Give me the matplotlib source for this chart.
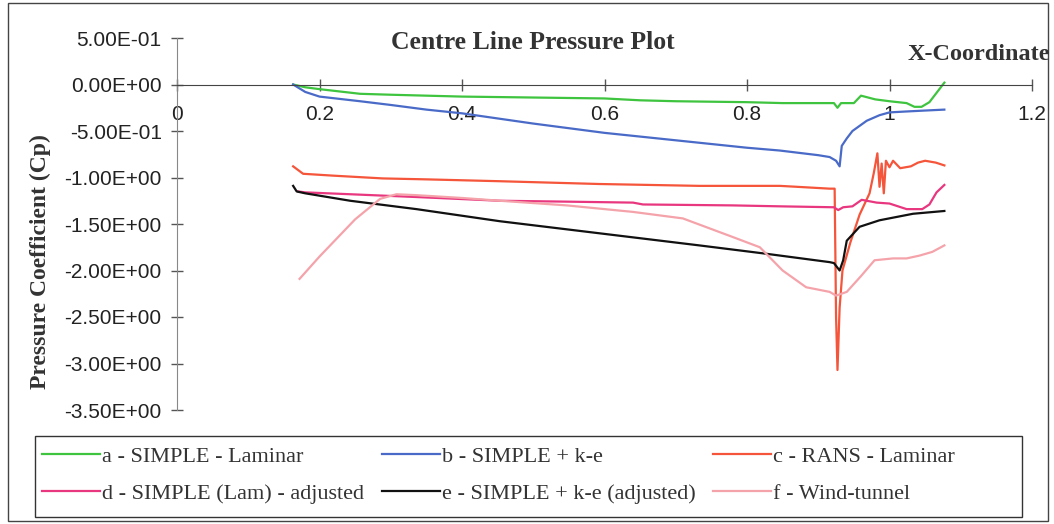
import matplotlib
matplotlib.use("Agg")
import matplotlib.pyplot as plt
from matplotlib.patches import Rectangle
from matplotlib.ticker import FixedLocator, FuncFormatter

# a - SIMPLE - Laminar
a_x = [0.163, 0.18, 0.2, 0.257, 0.3, 0.4, 0.5, 0.6, 0.65, 0.7, 0.8, 0.85, 0.9, 0.922,
       0.927, 0.932, 0.95, 0.96, 0.98, 1.0, 1.024, 1.035, 1.045, 1.056, 1.065, 1.077]
a_y = [0.0, -0.03, -0.05, -0.1, -0.11, -0.13, -0.14, -0.15, -0.17, -0.18, -0.19, -0.2, -0.2, -0.2,
       -0.25, -0.2, -0.2, -0.12, -0.16, -0.18, -0.2, -0.24, -0.24, -0.19, -0.1, 0.02]

# b - SIMPLE + k-e
b_x = [0.163, 0.18, 0.2, 0.257, 0.3, 0.35, 0.4, 0.5, 0.6, 0.7, 0.8, 0.846, 0.9, 0.916, 0.925,
       0.93, 0.933, 0.94, 0.948, 0.968, 0.986, 1.0, 1.024, 1.05, 1.077]
b_y = [0.0, -0.08, -0.13, -0.18, -0.22, -0.27, -0.31, -0.42, -0.52, -0.6, -0.68, -0.71, -0.76, -0.78, -0.82,
       -0.88, -0.66, -0.58, -0.5, -0.39, -0.33, -0.3, -0.29, -0.28, -0.27]

# c - RANS - Laminar
c_x = [0.163, 0.177, 0.219, 0.289, 0.35, 0.453, 0.593, 0.733, 0.846, 0.87, 0.916, 0.923, 0.925,
       0.927, 0.93, 0.934, 0.945, 0.958, 0.972, 0.978, 0.983, 0.986, 0.989, 0.992, 0.995, 1.0,
       1.005, 1.015, 1.03, 1.04, 1.05, 1.065, 1.077]
c_y = [-0.88, -0.96, -0.98, -1.01, -1.02, -1.04, -1.07, -1.09, -1.09, -1.1, -1.12, -1.12, -2.5,
       -3.07, -2.4, -2.0, -1.7, -1.4, -1.17, -0.95, -0.74, -1.1, -0.85, -1.17, -0.82, -0.89,
       -0.82, -0.9, -0.88, -0.84, -0.82, -0.84, -0.87]

# d - SIMPLE (Lam) - adjusted
d_x = [0.17, 0.18, 0.243, 0.336, 0.453, 0.55, 0.64, 0.654, 0.78, 0.846, 0.922, 0.928, 0.935,
       0.948, 0.961, 0.982, 1.0, 1.024, 1.046, 1.056, 1.066, 1.077]
d_y = [-1.15, -1.16, -1.18, -1.21, -1.25, -1.26, -1.27, -1.29, -1.30, -1.31, -1.32, -1.35, -1.32,
       -1.31, -1.24, -1.27, -1.28, -1.34, -1.34, -1.29, -1.16, -1.08]

# e - SIMPLE + k-e (adjusted)
e_x = [0.163, 0.168, 0.18, 0.243, 0.336, 0.453, 0.593, 0.733, 0.827, 0.916, 0.922, 0.93, 0.935,
       0.94, 0.958, 0.986, 1.033, 1.077]
e_y = [-1.09, -1.15, -1.17, -1.25, -1.34, -1.47, -1.6, -1.73, -1.82, -1.91, -1.92, -2.0, -1.89,
       -1.68, -1.53, -1.46, -1.39, -1.36]

# f - Wind-tunnel
f_x = [0.172, 0.2, 0.25, 0.285, 0.308, 0.336, 0.4, 0.453, 0.547, 0.64, 0.71, 0.78, 0.818, 0.85,
       0.883, 0.916, 0.925, 0.94, 0.96, 0.979, 1.005, 1.024, 1.042, 1.06, 1.077]
f_y = [-2.09, -1.85, -1.45, -1.23, -1.18, -1.19, -1.22, -1.25, -1.30, -1.37, -1.44, -1.64, -1.75,
       -2.0, -2.18, -2.23, -2.27, -2.23, -2.06, -1.89, -1.87, -1.87, -1.84, -1.8, -1.73]

labels = ["a - SIMPLE - Laminar", "b - SIMPLE + k-e", "c - RANS - Laminar",
          "d - SIMPLE (Lam) - adjusted", "e - SIMPLE + k-e (adjusted)", "f - Wind-tunnel"]
colors = ["#3ec43e", "#4a6ac8", "#f5553a", "#e8377f", "#111111", "#f5a3aa"]

x_ticks = [0, 0.2, 0.4, 0.6, 0.8, 1.0, 1.2]
x_tick_labels = ["0", "0.2", "0.4", "0.6", "0.8", "1", "1.2"]
y_ticks = [0.5, 0.0, -0.5, -1.0, -1.5, -2.0, -2.5, -3.0, -3.5]

fig = plt.figure(figsize=(10.54, 5.24), dpi=100)
ax = fig.add_axes([177 / 1054, 1 - 410 / 524, (1032 - 177) / 1054, (410 - 38) / 524])

series = [(a_x, a_y), (b_x, b_y), (c_x, c_y), (d_x, d_y), (e_x, e_y), (f_x, f_y)]
handles = []
for (xs, ys), lab, col in zip(series, labels, colors):
    h, = ax.plot(xs, ys, color=col, lw=1.6, label=lab)
    handles.append(h)

ax.set_xlim(0, 1.2)
ax.set_ylim(-3.5, 0.5)
ax.spines["top"].set_visible(False)
ax.spines["right"].set_visible(False)
ax.spines["bottom"].set_position(("data", 0))
ax.spines["bottom"].set_color("#444444")
ax.spines["left"].set_color("#888888")

ax.xaxis.set_major_locator(FixedLocator(x_ticks))
ax.set_xticklabels(x_tick_labels)
ax.yaxis.set_major_locator(FixedLocator(y_ticks))
ax.yaxis.set_major_formatter(FuncFormatter(lambda v, p: f"{v:.2E}"))

ax.tick_params(axis="both", direction="inout", length=8, width=1, colors="#555555",
               labelcolor="#222222", labelsize=15)
ax.tick_params(axis="x", pad=11)
ax.tick_params(axis="y", pad=7)
for t in ax.get_xticklabels() + ax.get_yticklabels():
    t.set_family("Liberation Sans")

fig.text(533 / 1054, 1 - 43 / 524, "Centre Line Pressure Plot", family="Liberation Serif",
         weight="bold", fontsize=18.5, ha="center", va="center", color="#333333")
fig.text(1050 / 1054, 1 - 55 / 524, "X-Coordinate", family="Liberation Serif",
         weight="bold", fontsize=17.5, ha="right", va="center", color="#333333")
fig.text(40 / 1054, 1 - 262 / 524, "Pressure Coefficient (Cp)", family="Liberation Serif",
         weight="bold", fontsize=17, ha="center", va="center", rotation=90, color="#333333")

# legend fills row by row in the reference, box drawn separately
order = [0, 3, 1, 4, 2, 5]
leg = fig.legend(handles=[handles[i] for i in order], labels=[labels[i] for i in order],
                 ncol=3, loc="upper left", bbox_to_anchor=(42 / 1054, 1 - 446 / 524),
                 prop={"family": "Liberation Serif", "size": 16}, handlelength=2.6,
                 handletextpad=0.1, labelspacing=0.75, columnspacing=0.8, borderpad=0,
                 borderaxespad=0, frameon=False)
for t in leg.get_texts():
    t.set_color("#333333")

fig.patches.append(Rectangle((35 / 1054, 1 - 517 / 524), (1022 - 35) / 1054, (517 - 436) / 524,
                             transform=fig.transFigure, fill=False, edgecolor="#333333", lw=1.0))
fig.patches.append(Rectangle((8 / 1054, 3 / 524), 1040 / 1054, 518 / 524, transform=fig.transFigure,
                             fill=False, edgecolor="#444444", lw=1.0))

fig.savefig("out.png", dpi=100)
